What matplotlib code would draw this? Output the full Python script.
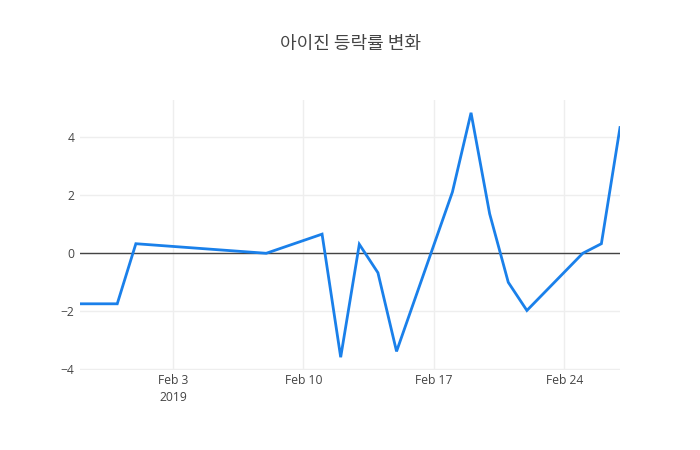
import matplotlib
matplotlib.use('Agg')
import matplotlib.pyplot as plt
import matplotlib.dates as mdates
import numpy as np
import pandas as pd

# data
dates = ['2019-01-29', '2019-01-31', '2019-02-01', '2019-02-08', '2019-02-11',
         '2019-02-12', '2019-02-13', '2019-02-14', '2019-02-15', '2019-02-18',
         '2019-02-19', '2019-02-20', '2019-02-21', '2019-02-22', '2019-02-25',
         '2019-02-26', '2019-02-27']
change = [-1.74, -1.74, 0.33, 0.0, 0.66,
          -3.58, 0.31, -0.67, -3.38, 2.11,
          4.84, 1.36, -1.0, -1.97, 0.0,
          0.33, 4.33]
tick_dates = ['2019-02-03', '2019-02-10', '2019-02-17', '2019-02-24']
tick_labels = ['Feb 3\n2019', 'Feb 10', 'Feb 17', 'Feb 24']
yticks = [-4, -2, 0, 2, 4]

x = pd.to_datetime(dates)
xt = pd.to_datetime(tick_dates)

fig = plt.figure(figsize=(7, 4.5), dpi=100, facecolor='white')
ax = fig.add_axes([80/700, 80/450, 540/700, 270/450])

ax.plot(x, change, color='#1a80ea', lw=2, solid_joinstyle='miter', zorder=3)
ax.axhline(0, color='#444444', lw=1, zorder=2)

ax.set_xlim(x[0], x[-1])
ax.set_ylim(-4.02, 5.28)
ax.set_xticks(xt)
ax.set_xticklabels(tick_labels)
ax.set_yticks(yticks)
ax.set_yticklabels([str(v).replace('-', '\u2212') for v in yticks])

ax.grid(True, color='#eeeeee', lw=1, zorder=0)
for s in ax.spines.values():
    s.set_visible(False)
ax.tick_params(length=0, labelsize=8.7, colors='#444444')
ax.tick_params(axis='x', pad=3)
ax.tick_params(axis='y', pad=4)
for lab in ax.get_xticklabels() + ax.get_yticklabels():
    lab.set_family(['Open Sans', 'DejaVu Sans'])
for lab in ax.get_xticklabels():
    lab.set_linespacing(1.35)

fig.text(0.5, 1 - 44/450, '아이진 등락률 변화', ha='center', va='center',
         fontsize=13, color='#444444', family=['Noto Sans CJK KR', 'DejaVu Sans'])

fig.savefig('out.png', dpi=100, facecolor='white')
